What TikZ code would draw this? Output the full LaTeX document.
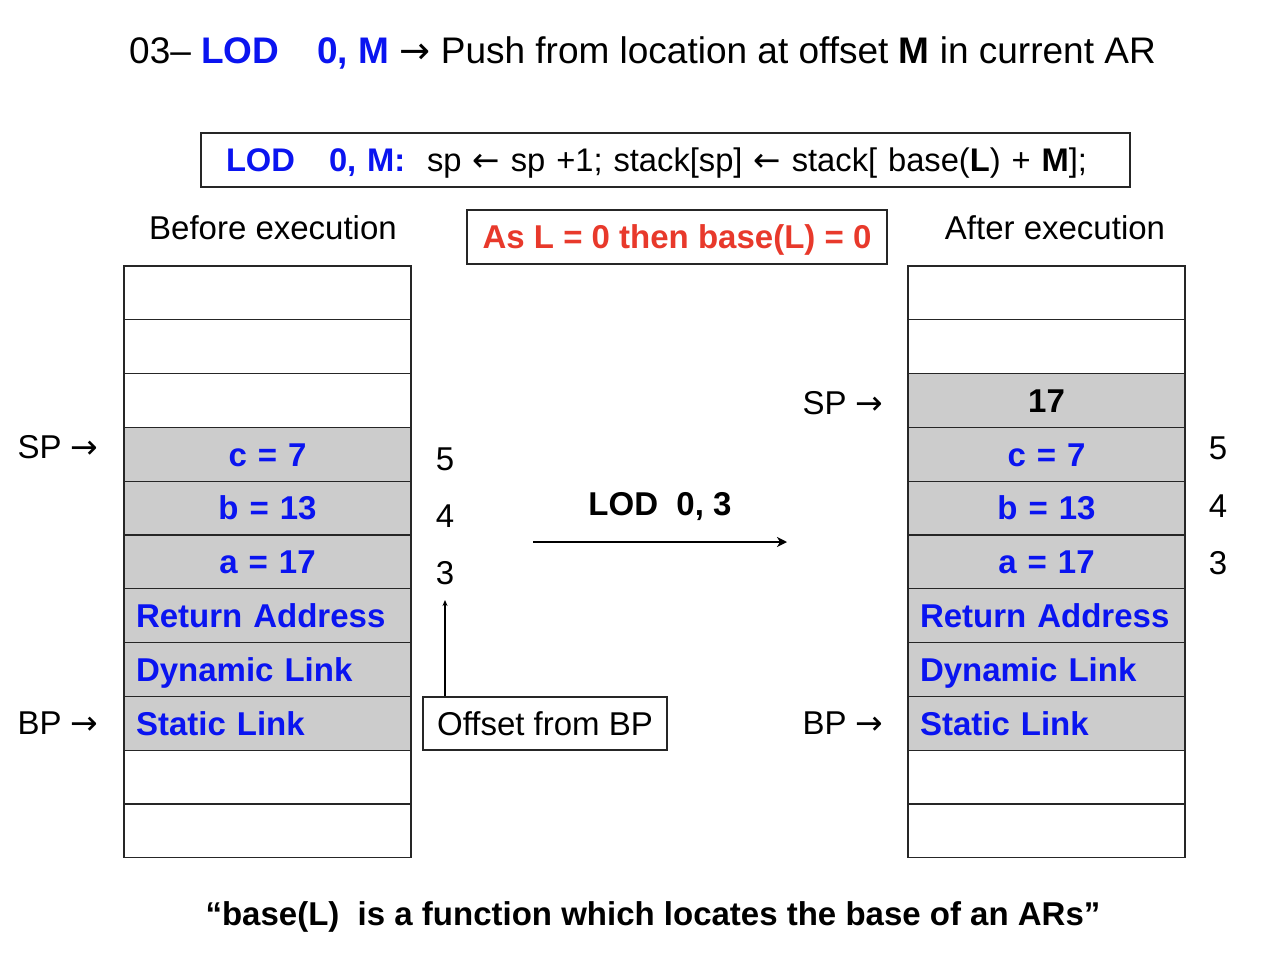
\documentclass[tikz,border=0pt]{standalone}
\usepackage{fontspec}
\setmainfont{Liberation Sans}
\newfontfamily\arrowfont{DejaVu Sans}
\newcommand\rarr{{\arrowfont →}}
\newcommand\larr{{\arrowfont ←}}
\usetikzlibrary{positioning,arrows.meta}
\definecolor{cellgray}{HTML}{CCCCCC}
\definecolor{opblue}{HTML}{0A14F0}
\definecolor{warnred}{HTML}{E8392B}
\tikzset{
  txt/.style={font=\fontsize{33}{38}\selectfont, text height=23.6pt, text depth=0pt, inner sep=0pt},
  cell/.style={txt, font=\fontsize{33}{38}\selectfont\bfseries, draw=black!85, line width=1.2pt,
    minimum height=53.8pt, inner xsep=12pt, inner ysep=0pt, outer sep=0pt, anchor=north},
  blank/.style={fill=white},
  val/.style={fill=cellgray, text=opblue, align=center},
  link/.style={fill=cellgray, text=opblue, align=left},
  pushed/.style={fill=cellgray, align=center},
  framed/.style={draw=black!85, line width=1.2pt},
}
\begin{document}
\begin{tikzpicture}[x=1pt, y=-1pt, >={Stealth[length=10pt, width=10pt, inset=3pt]}]
\useasboundingbox (0,0) rectangle (1272,958);

% title
\node[txt, font=\fontsize{37}{43}\selectfont, text height=26.5pt] (title) at (642.5,50)
  {03– \textcolor{opblue}{\textbf{LOD}}\hspace{38pt}\textcolor{opblue}{\textbf{0, M}} \rarr\ Push from location at offset \textbf{M} in current AR};

% instruction box
\node[txt, framed, font=\fontsize{32.7}{38}\selectfont, text height=23.4pt, text width=879pt, align=left,
  inner xsep=25pt, minimum height=54pt] (lodbox) at (665.5,160)
  {\textcolor{opblue}{\textbf{LOD}\hspace{34pt}\textbf{0, M:}}\ \ sp \larr\ sp +1; stack[sp] \larr\ stack[ base(\textbf{L}) + \textbf{M}];};

% headings
\node[txt] (before) at (273,228) {Before execution};
\node[txt] (after) at (1055,228) {After execution};
\node[txt, framed, font=\fontsize{33}{38}\selectfont\bfseries, text=warnred,
  minimum width=420pt, minimum height=54pt] (basebox) at (677,237) {As L = 0 then base(L) = 0};

% stack before
\foreach \i/\lbl/\sty in {0//blank, 1//blank, 2//blank, 3/c = 7/val, 4/b = 13/val, 5/a = 17/val,
    6/Return Address/link, 7/Dynamic Link/link, 8/Static Link/link, 9//blank, 10//blank}
  \node[cell, \sty, text width=263pt] (L\i) at (267.5,{266+53.8*\i}) {\lbl};

% stack after
\foreach \i/\lbl/\sty in {0//blank, 1//blank, 2/17/pushed, 3/c = 7/val, 4/b = 13/val, 5/a = 17/val,
    6/Return Address/link, 7/Dynamic Link/link, 8/Static Link/link, 9//blank, 10//blank}
  \node[cell, \sty, text width=253pt] (R\i) at (1046.5,{266+53.8*\i}) {\lbl};

% pointers
\node[txt] (spL) at (58,447) {SP \rarr};
\node[txt] (bpL) at (58,723) {BP \rarr};
\node[txt] (spR) at (843,403) {SP \rarr};
\node[txt] (bpR) at (843,723) {BP \rarr};

% offsets
\node[txt] (l5) at (445,459) {5};
\node[txt] (l4) at (445,516) {4};
\node[txt] (l3) at (445,573) {3};
\node[txt] (r5) at (1218,448) {5};
\node[txt] (r4) at (1218,506) {4};
\node[txt] (r3) at (1218,563) {3};

\node[txt, framed, minimum width=244pt, minimum height=53pt] (offset) at (545,723.5) {Offset from BP};
\draw[-{Stealth[length=6pt, width=5pt]}, line width=1.2pt] (offset.north -| l3) -- ([yshift=-15pt]l3.south);

% transition
\node[txt, font=\fontsize{33}{38}\selectfont\bfseries] (lod03) at (660,504) {LOD\ \ 0, 3};
\coordinate (from) at (533,542);
\coordinate (to) at (787,542);
\draw[->, line width=2pt] (from) -- (to);

% note
\node[txt, font=\fontsize{33}{38}\selectfont\bfseries] (note) at (653,914)
  {“base(L)\ \ is a function which locates the base of an ARs”};
\end{tikzpicture}
\end{document}
